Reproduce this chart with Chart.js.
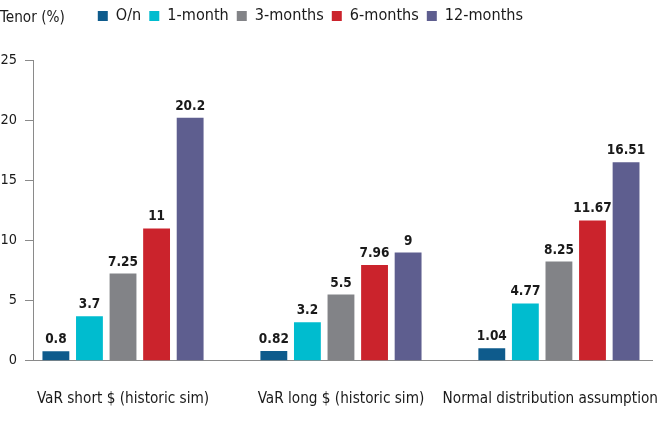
<!DOCTYPE html>
<html>
<head>
<meta charset="utf-8">
<script src="https://cdn.jsdelivr.net/npm/chart.js@4.4.1/dist/chart.umd.min.js"></script>
<style>
  html, body { margin: 0; padding: 0; background: #fff; }
  #wrap { width: 660px; height: 440px; position: relative; }
</style>
</head>
<body>
<div id="wrap"><canvas id="myChart"></canvas></div>
<script>
// data
var categories = ['VaR short $ (historic sim)', 'VaR long $ (historic sim)', 'Normal distribution assumption'];
var tenors = ['O/n', '1-month', '3-months', '6-months', '12-months'];
var overnight = [0.8, 0.82, 1.04];
var oneMonth = [3.7, 3.2, 4.77];
var threeMonths = [7.25, 5.5, 8.25];
var sixMonths = [11, 7.96, 11.67];
var twelveMonths = [20.2, 9, 16.51];
var yMax = 25;
var yStep = 5;

var colors = ['#0e5b8c', '#00bccf', '#828387', '#cb232c', '#5e5e8f'];
var series = [overnight, oneMonth, threeMonths, sixMonths, twelveMonths];
var TXT = '#1a1a1a';

// pick a narrow face if one is installed, else shrink a normal one
var probe = document.createElement('canvas').getContext('2d');
function width(font, s) { probe.font = font; return probe.measureText(s).width; }
var sample = 'Tenor (%) VaR short';
var FONT = '"Liberation Sans", sans-serif';
var STRETCH = '';
if (width('18px "Liberation Sans Narrow", monospace', sample) !== width('18px monospace', sample)) {
  FONT = '"Liberation Sans Narrow", sans-serif';
} else if (width('18px "DejaVu Sans Condensed", monospace', sample) !== width('18px monospace', sample)) {
  FONT = '"DejaVu Sans Condensed", sans-serif';
} else if (width('condensed 18px "DejaVu Sans"', sample) < width('18px "DejaVu Sans"', sample) - 2) {
  FONT = '"DejaVu Sans", sans-serif';
  STRETCH = 'condensed';
}
function f(size, bold) {
  return (bold ? 'bold ' : '') + (STRETCH ? STRETCH + ' ' : '') + size + 'px ' + FONT;
}
// the reference "Tenor (%)" is about 65px wide at 18px
var scale = Math.min(1.1, 65 / width(f(18), 'Tenor (%)'));
var S = function (n) { return Math.round(n * scale * 10) / 10; };

function points(vals) {
  return vals.map(function (v, i) { return { x: i, y: v }; });
}

// "Tenor (%)" sits left of the legend on the same row
var tenorTitle = {
  id: 'tenorTitle',
  beforeInit: function (chart) {
    var fit = chart.legend.fit;
    chart.legend.fit = function () {
      fit.call(this);
      this.height += 26;
    };
  },
  afterLayout: function (chart) {
    chart.legend.left = width(f(S(18)), 'Tenor (%)') + 25;
  },
  afterDraw: function (chart) {
    var ctx = chart.ctx;
    ctx.save();
    ctx.font = f(S(18));
    ctx.fillStyle = TXT;
    ctx.textBaseline = 'middle';
    ctx.textAlign = 'left';
    ctx.fillText('Tenor (%)', 0, chart.legend.top + 18);
    ctx.restore();
  }
};

// value labels above each bar
var barValues = {
  id: 'barValues',
  afterDatasetsDraw: function (chart) {
    var ctx = chart.ctx;
    ctx.save();
    ctx.font = f(S(16), true);
    ctx.fillStyle = TXT;
    ctx.textAlign = 'center';
    ctx.textBaseline = 'alphabetic';
    chart.data.datasets.forEach(function (ds, di) {
      var meta = chart.getDatasetMeta(di);
      meta.data.forEach(function (bar, i) {
        ctx.fillText(String(series[di][i]), bar.x, bar.y - 8);
      });
    });
    ctx.restore();
  }
};

function cfont(size) {
  var o = { family: FONT, size: size };
  if (STRETCH) o.weight = STRETCH;
  return o;
}

var ctx = document.querySelector('#myChart').getContext('2d');
var myChart = new Chart(ctx, {
  type: 'bar',
  data: {
    datasets: tenors.map(function (t, i) {
      return {
        label: t,
        data: points(series[i]),
        backgroundColor: colors[i],
        categoryPercentage: 0.77,
        barPercentage: 0.8
      };
    })
  },
  options: {
    responsive: true,
    maintainAspectRatio: false,
    animation: false,
    layout: {
      autoPadding: false,
      padding: { left: 1, right: 8, top: 0, bottom: 3 }
    },
    plugins: {
      legend: {
        position: 'top',
        align: 'start',
        labels: {
          boxWidth: 10,
          boxHeight: 10,
          padding: 8,
          color: TXT,
          font: cfont(S(19))
        }
      },
      tooltip: { enabled: false }
    },
    scales: {
      x: {
        type: 'linear',
        offset: false,
        min: -0.413,
        max: 2.427,
        // let the outer labels hang over the plot edges
        afterFit: function (scale) { scale.paddingLeft = 0; scale.paddingRight = 0; },
        grid: { display: false, drawTicks: false },
        border: { display: true, color: '#8a8a8a', width: 1 },
        ticks: {
          stepSize: 1,
          includeBounds: false,
          autoSkip: false,
          maxRotation: 0,
          padding: 29,
          color: TXT,
          font: cfont(S(18)),
          callback: function (v) {
            var s = categories[v] || '';
            // last label is nudged left so it stays on the canvas
            return v === categories.length - 1 ? s + '\u00a0\u00a0\u00a0\u00a0' : s;
          }
        }
      },
      y: {
        min: 0,
        max: yMax,
        afterFit: function (scale) { scale.width = 32; },
        grid: { drawOnChartArea: false, drawTicks: true, tickLength: 8, color: '#8a8a8a' },
        border: { display: true, color: '#8a8a8a', width: 1 },
        ticks: {
          stepSize: yStep,
          padding: 8,
          color: TXT,
          font: cfont(S(17))
        }
      }
    }
  },
  plugins: [tenorTitle, barValues]
});
</script>
</body>
</html>
